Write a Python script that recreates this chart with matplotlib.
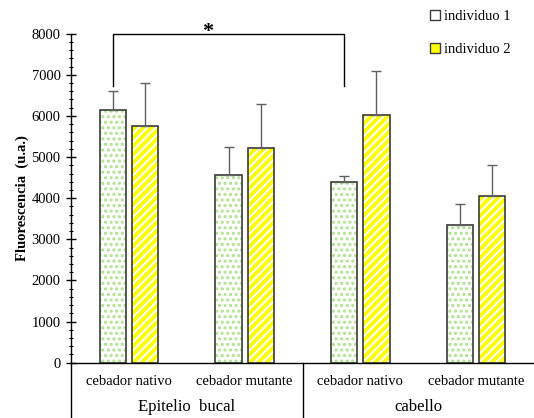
import numpy as np
import matplotlib.pyplot as plt
from matplotlib.patches import Patch
from matplotlib.lines import Line2D
from matplotlib.ticker import MultipleLocator

plt.rcParams['font.family'] = ['Liberation Serif', 'DejaVu Serif']
plt.rcParams['hatch.linewidth'] = 1.5

# datos
cebadores = ['cebador nativo', 'cebador mutante', 'cebador nativo', 'cebador mutante']
muestras = ['Epitelio  bucal', 'cabello']
ind1 = [6140, 4560, 4400, 3350]
ind1_err = [460, 690, 130, 520]
ind2 = [5750, 5220, 6020, 4060]
ind2_err = [1050, 1080, 1080, 750]
series = ['individuo 1', 'individuo 2']

fig = plt.figure(figsize=(5.34, 4.18), dpi=100)
ax = fig.add_axes([0.133, 0.1323, 0.867, 0.7871])

x = np.arange(len(cebadores))
w = 0.226
off = 0.139
edge = '#3a3a3a'

# relleno con trama y luego el contorno encima
ax.bar(x - off, ind1, w, color='white', edgecolor='#b0e290', hatch='...', lw=0)
ax.bar(x - off, ind1, w, color='none', edgecolor=edge, lw=1.2)
ax.bar(x + off, ind2, w, color='#ffff00', edgecolor='white', hatch='////', lw=0)
ax.bar(x + off, ind2, w, color='none', edgecolor=edge, lw=1.2)

ax.errorbar(x - off, ind1, yerr=[np.zeros(4), ind1_err], fmt='none',
            ecolor='#606060', elinewidth=1, capsize=3.5, capthick=1)
ax.errorbar(x + off, ind2, yerr=[np.zeros(4), ind2_err], fmt='none',
            ecolor='#606060', elinewidth=1, capsize=3.5, capthick=1)

ax.set_xlim(-0.5, 3.5)
ax.set_ylim(0, 8000)
ax.yaxis.set_major_locator(MultipleLocator(1000))
ax.yaxis.set_minor_locator(MultipleLocator(200))
ax.tick_params(axis='y', which='major', direction='inout', length=7, width=1,
               labelsize=10.5, pad=4)
ax.tick_params(axis='y', which='minor', direction='inout', length=3, width=0.8)
ax.set_xticks([])
for s in ['top', 'right']:
    ax.spines[s].set_visible(False)
ax.spines['left'].set_linewidth(1)
ax.spines['bottom'].set_linewidth(1)

ax.set_ylabel('Fluorescencia  (u.a.)', fontweight='bold', fontsize=10.5, labelpad=2)

# etiquetas del eje x en dos niveles
trans = ax.get_xaxis_transform()
for xi, lab in zip(x, cebadores):
    ax.text(xi, -0.058, lab, transform=trans, ha='center', va='center', fontsize=10.5)
for xi, lab in zip([0.5, 2.5], muestras):
    ax.text(xi, -0.134, lab, transform=trans, ha='center', va='center', fontsize=12)
for xs in [-0.5, 1.5]:
    ax.add_line(Line2D([xs, xs], [0, -0.17], transform=trans, color='black',
                       lw=1, clip_on=False))

# corchete de significancia
yb = 6730
ax.plot([x[0] - off, x[0] - off, x[2] - off, x[2] - off], [yb, 8000, 8000, yb],
        color='black', lw=1, clip_on=False)
ax.text(0.68, 7790, '*', ha='center', va='bottom', fontsize=16, fontweight='bold')

handles = [Patch(facecolor='white', edgecolor=edge, lw=1, label=series[0]),
           Patch(facecolor='#ffff00', edgecolor=edge, lw=1, label=series[1])]
fig.legend(handles=handles, loc='upper left', bbox_to_anchor=(0.78, 1.008),
           frameon=False, handlelength=0.7, handleheight=0.7, handletextpad=0.3,
           labelspacing=1.35, fontsize=10.5)

fig.savefig('out.png', dpi=100)
